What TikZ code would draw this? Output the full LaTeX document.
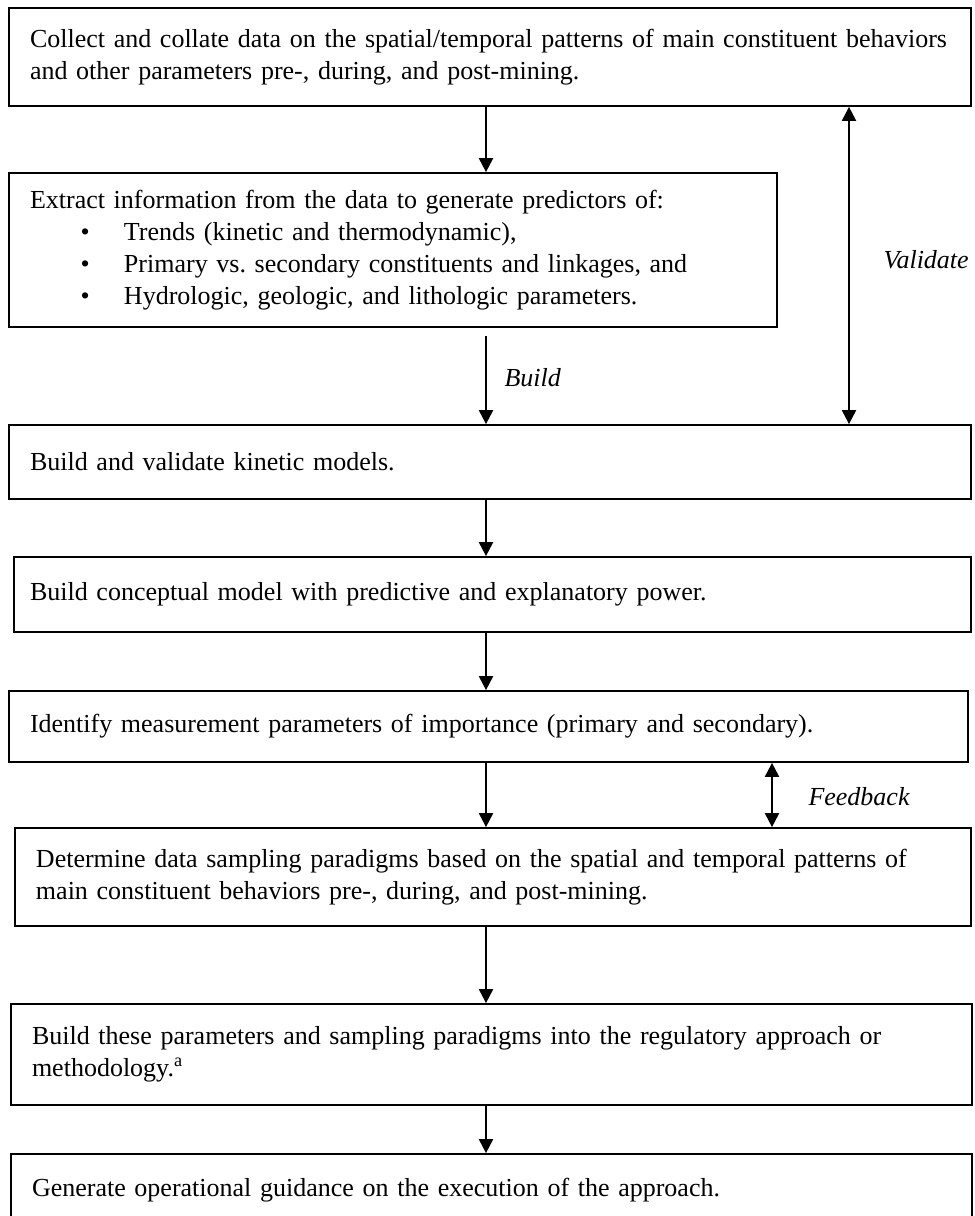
\documentclass[tikz,border=0pt]{standalone}
\usepackage{fontspec}
\setmainfont{Liberation Serif}
\usetikzlibrary{arrows.meta}

\tikzset{every picture/.style={line width=0.75pt}}
\tikzset{
  flowbox/.style={draw, line width=1.3pt, align=left, inner xsep=15.75pt, inner ysep=0pt,
    font=\fontsize{19.5}{24}\selectfont},
  flowarrow/.style={line width=1.5pt, -{Triangle[length=10.5pt,width=10.5pt]}},
  twoway/.style={line width=1.5pt, {Triangle[length=10.5pt,width=10.5pt]}-{Triangle[length=10.5pt,width=10.5pt]}},
  steplabel/.style={anchor=west, inner sep=0pt, font=\fontsize{19.5}{24}\selectfont\itshape}
}
\newcommand{\bitem}{\hspace*{38pt}\makebox[32.5pt][l]{\textbullet}}

\begin{document}
\begin{tikzpicture}[x=0.75pt,y=0.75pt,yscale=-1,xscale=1]
\useasboundingbox (0,0) rectangle (974,1216);

%Shape: Rectangle [collect]
\node[flowbox, text width=690pt, minimum height=73.5pt] (collect) at (490,57)
  {\mbox{Collect and collate data on the spatial/temporal patterns of main constituent behaviors}\\
   and other parameters pre-, during, and post-mining.};
%Shape: Rectangle [extract]
\node[flowbox, text width=544.5pt, minimum height=115.5pt] (extract) at (393,250)
  {Extract information from the data to generate predictors of:\\
   \bitem Trends (kinetic and thermodynamic),\\
   \bitem Primary vs.\ secondary constituents and linkages, and\\
   \bitem Hydrologic, geologic, and lithologic parameters.};
%Shape: Rectangle [kinetic]
\node[flowbox, text width=690pt, minimum height=55.5pt] (kinetic) at (490,462)
  {Build and validate kinetic models.};
%Shape: Rectangle [concept]
\node[flowbox, inner xsep=12pt, text width=693.75pt, minimum height=56.25pt] (concept) at (492.5,594.5)
  {Build conceptual model with predictive and explanatory power.};
%Shape: Rectangle [identify]
\node[flowbox, text width=687.75pt, minimum height=53.25pt] (identify) at (488.5,726.5)
  {Identify measurement parameters of importance (primary and secondary).};
%Shape: Rectangle [sampling]
\node[flowbox, text width=685.5pt, minimum height=73.5pt] (sampling) at (493,877)
  {Determine data sampling paradigms based on the spatial and temporal patterns of\\
   main constituent behaviors pre-, during, and post-mining.};
%Shape: Rectangle [regulate]
\node[flowbox, text width=689.25pt, minimum height=75.75pt] (regulate) at (491.5,1054.5)
  {Build these parameters and sampling paradigms into the regulatory approach or\\
   methodology.\textsuperscript{a}};
%Shape: Rectangle [guidance]
\node[flowbox, text width=689.25pt, minimum height=54pt] (guidance) at (491.5,1190)
  {Generate operational guidance on the execution of the approach.};

\coordinate (mainx) at (486,0);
\coordinate (valx) at (849,0);
\coordinate (fbx) at (772,0);

%Straight Lines
\draw[flowarrow] (collect.south -| mainx) -- (extract.north -| mainx);
\draw[flowarrow, shorten <=6pt] (extract.south -| mainx) -- (kinetic.north -| mainx);
\draw[twoway] (collect.south -| valx) -- (kinetic.north -| valx);
\draw[flowarrow] (kinetic.south -| mainx) -- (concept.north -| mainx);
\draw[flowarrow] (concept.south -| mainx) -- (identify.north -| mainx);
\draw[flowarrow] (identify.south -| mainx) -- (sampling.north -| mainx);
\draw[twoway] (identify.south -| fbx) -- (sampling.north -| fbx);
\draw[flowarrow] (sampling.south -| mainx) -- (regulate.north -| mainx);
\draw[flowarrow] (regulate.south -| mainx) -- (guidance.north -| mainx);

% Text Node
\node[steplabel] (validate) at (883,260) {Validate};
% Text Node
\node[steplabel] (build) at (504,378) {Build};
% Text Node
\node[steplabel] (feedback) at (808,797) {Feedback};

\end{tikzpicture}
\end{document}
